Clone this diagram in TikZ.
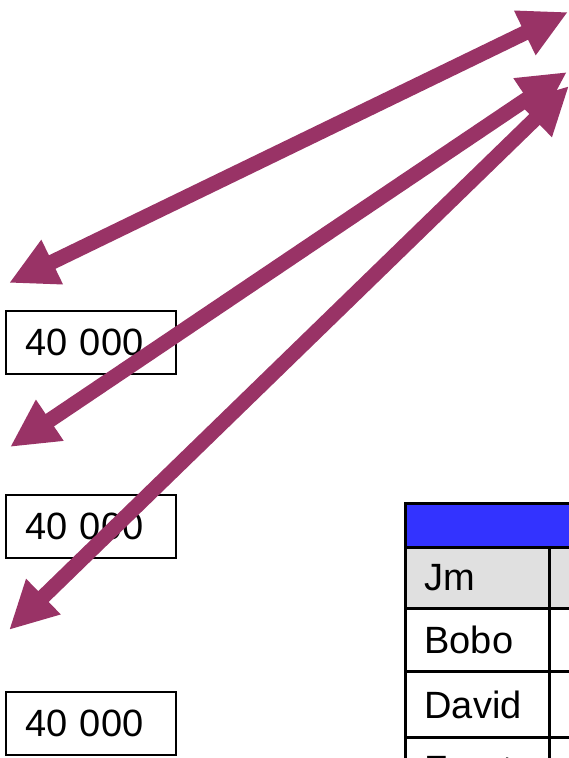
\documentclass[tikz,border=0pt]{standalone}
\usepackage{fontspec}
\setmainfont{Liberation Sans}
\usetikzlibrary{arrows.meta}
\definecolor{plum}{RGB}{153,51,102}
\definecolor{hdrblue}{RGB}{51,51,255}
\definecolor{rowgray}{RGB}{224,224,224}
\tikzstyle{every node}=[font=\fontsize{38}{44}\selectfont]
\tikzstyle{valbox}=[draw,line width=2pt,rectangle,anchor=north west,minimum width=170pt,minimum height=63pt,text width=132pt,inner xsep=19pt,inner ysep=0pt,align=left]
\tikzstyle{link}=[draw=plum,line width=15pt,{Triangle[length=48pt,width=46pt]}-{Triangle[length=48pt,width=46pt]}]
\tikzstyle{cell}=[draw,line width=3pt,rectangle,anchor=north west,text width=106pt,inner xsep=19pt,inner ysep=0pt,align=left]

\begin{document}
\begin{tikzpicture}[x=1pt,y=-1pt]
    \useasboundingbox (0,0) rectangle (568,758);
    % amount boxes
    \node[valbox] (v1) at (5,310) {40 000};
    \node[valbox] (v2) at (5,494) {40 000};
    \node[valbox] (v3) at (5,691) {40 000};
    % table
    \node[cell, fill=hdrblue, minimum width=300pt, minimum height=44pt] (hdr) at (404,502) {};
    \node[cell, fill=rowgray, minimum width=144pt, minimum height=61pt] (jm) at (404,546) {Jm};
    \node[cell, fill=rowgray, minimum width=160pt, minimum height=61pt] (jm2) at (548,546) {};
    \node[cell, minimum width=144pt, minimum height=63pt] (bobo) at (404,607) {Bobo};
    \node[cell, minimum width=160pt, minimum height=63pt] (bobo2) at (548,607) {};
    \node[cell, minimum width=144pt, minimum height=66pt] (david) at (404,670) {David};
    \node[cell, minimum width=160pt, minimum height=66pt] (david2) at (548,670) {};
    \node[cell, minimum width=144pt, minimum height=64pt] (franta) at (404,736) {\mbox{Franta}};
    \node[cell, minimum width=160pt, minimum height=64pt] (franta2) at (548,736) {};
    % arrows
    \coordinate (a1) at (9,283);
    \coordinate (b1) at (568,12);
    \coordinate (a2) at (10,447);
    \coordinate (b2) at (567,72);
    \coordinate (a3) at (9,630);
    \coordinate (b3) at (569,86);
    \draw[link] (a1) -- (b1);
    \draw[link] (a2) -- (b2);
    \draw[link] (a3) -- (b3);
\end{tikzpicture}
\end{document}
